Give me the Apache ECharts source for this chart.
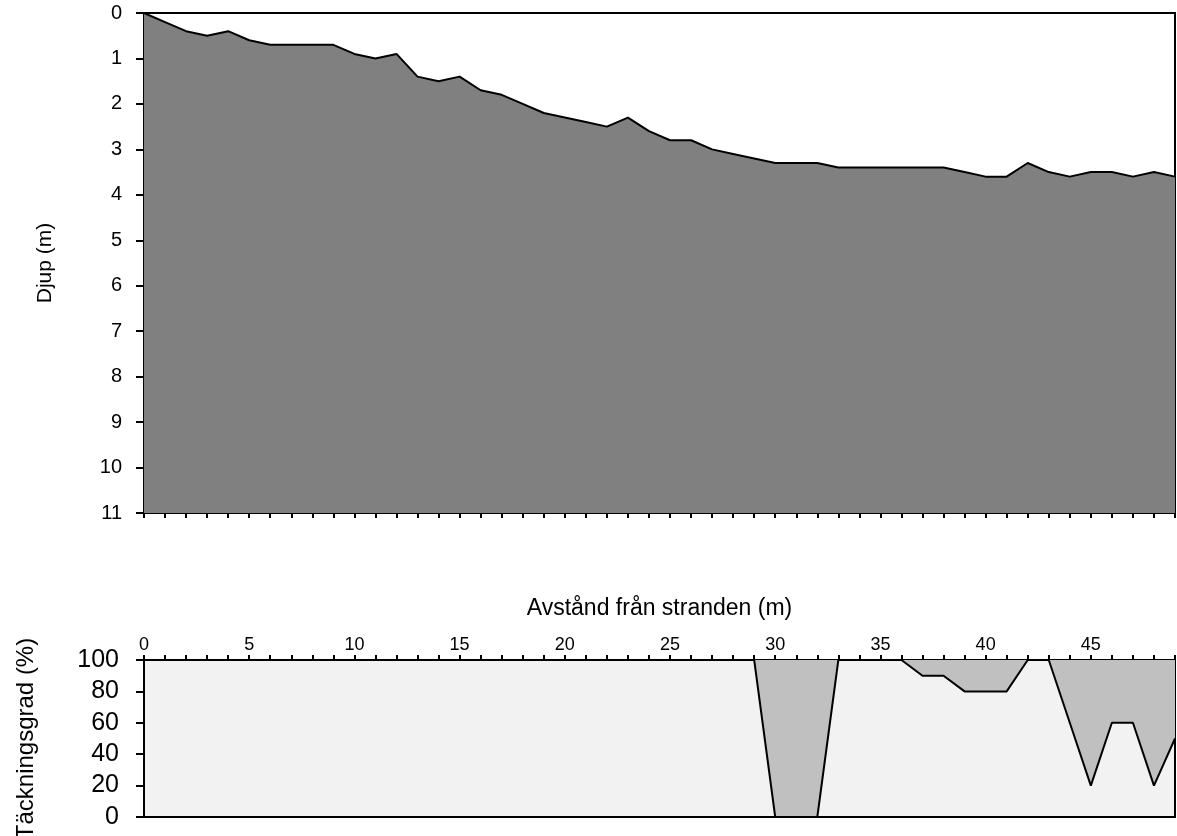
<!DOCTYPE html>
<html>
<head>
<meta charset="utf-8">
<title>Djup och täckningsgrad</title>
<script src="https://cdn.jsdelivr.net/npm/echarts@6/dist/echarts.min.js"></script>
<style>
  html, body { margin: 0; padding: 0; background: #ffffff; }
  #chart { width: 1177px; height: 836px; }
</style>
</head>
<body>
<div id="chart"></div>
<script>
// Avstånd från stranden (m), one sample per metre
const distance = [
  0, 1, 2, 3, 4, 5, 6, 7, 8, 9,
  10, 11, 12, 13, 14, 15, 16, 17, 18, 19,
  20, 21, 22, 23, 24, 25, 26, 27, 28, 29,
  30, 31, 32, 33, 34, 35, 36, 37, 38, 39,
  40, 41, 42, 43, 44, 45, 46, 47, 48, 49
];

// Djup (m) at each distance
const depth = [
  0.0, 0.2, 0.4, 0.5, 0.4, 0.6, 0.7, 0.7, 0.7, 0.7,
  0.9, 1.0, 0.9, 1.4, 1.5, 1.4, 1.7, 1.8, 2.0, 2.2,
  2.3, 2.4, 2.5, 2.3, 2.6, 2.8, 2.8, 3.0, 3.1, 3.2,
  3.3, 3.3, 3.3, 3.4, 3.4, 3.4, 3.4, 3.4, 3.4, 3.5,
  3.6, 3.6, 3.3, 3.5, 3.6, 3.5, 3.5, 3.6, 3.5, 3.6
];

// Täckningsgrad (%) at each distance
const coverage = [
  100, 100, 100, 100, 100, 100, 100, 100, 100, 100,
  100, 100, 100, 100, 100, 100, 100, 100, 100, 100,
  100, 100, 100, 100, 100, 100, 100, 100, 100, 100,
  0, 0, 0, 100, 100, 100, 100, 90, 90, 80,
  80, 80, 100, 100, 60, 20, 60, 60, 20, 50
];

const depthTicks = [0, 11, 1];      // min, max, step
const coverageTicks = [0, 100, 20]; // min, max, step
const distanceRange = [0, 49];

const FONT = '"Liberation Sans", Arial, Helvetica, sans-serif';
const pairs = (xs, ys) => xs.map((x, i) => [x, ys[i]]);

const blackLine = { show: true, onZero: false, lineStyle: { color: '#000', width: 2 } };

const chart = echarts.init(document.getElementById('chart'), null, { renderer: 'canvas' });

chart.setOption({
  animation: false,
  backgroundColor: '#ffffff',
  textStyle: { fontFamily: FONT, color: '#000' },
  grid: [
    { left: 144, right: 2, top: 13, height: 500, show: true, outerBoundsMode: 'none',
      backgroundColor: '#ffffff', borderColor: '#000', borderWidth: 2 },
    { left: 144, right: 2, top: 660, height: 157, show: true, outerBoundsMode: 'none',
      backgroundColor: '#f2f2f2', borderColor: '#000', borderWidth: 2 }
  ],
  xAxis: [
    {
      type: 'value', gridIndex: 0, position: 'bottom',
      min: distanceRange[0], max: distanceRange[1], interval: 1,
      axisLine: blackLine,
      axisTick: { show: true, inside: false, length: 5, lineStyle: { color: '#000', width: 2 } },
      axisLabel: { show: false },
      splitLine: { show: false }
    },
    {
      type: 'value', gridIndex: 1, position: 'top',
      min: distanceRange[0], max: distanceRange[1], interval: 1,
      name: 'Avstånd från stranden (m)', nameLocation: 'middle', nameGap: 40,
      nameTextStyle: { fontSize: 23, color: '#000', fontFamily: FONT },
      axisLine: blackLine,
      axisTick: { show: true, inside: false, length: 5, lineStyle: { color: '#000', width: 2 } },
      axisLabel: {
        show: true, fontSize: 18, color: '#000', margin: 6, fontFamily: FONT,
        formatter: v => (v % 5 === 0 ? String(v) : '')
      },
      splitLine: { show: false }
    }
  ],
  yAxis: [
    {
      type: 'value', gridIndex: 0, inverse: true,
      min: depthTicks[0], max: depthTicks[1], interval: depthTicks[2],
      name: 'Djup (m)', nameLocation: 'middle', nameGap: 88, nameRotate: 90,
      nameTextStyle: { fontSize: 21, color: '#000', fontFamily: FONT },
      axisLine: blackLine,
      axisTick: { show: true, inside: false, length: 8, lineStyle: { color: '#000', width: 2 } },
      axisLabel: { fontSize: 20, color: '#000', margin: 22, fontFamily: FONT },
      splitLine: { show: false }
    },
    {
      type: 'value', gridIndex: 1,
      min: coverageTicks[0], max: coverageTicks[1], interval: coverageTicks[2],
      name: 'Täckningsgrad (%)', nameLocation: 'middle', nameGap: 106, nameRotate: 90,
      nameTextStyle: { fontSize: 24, color: '#000', fontFamily: FONT },
      axisLine: blackLine,
      axisTick: { show: true, inside: false, length: 8, lineStyle: { color: '#000', width: 2 } },
      axisLabel: { fontSize: 25, color: '#000', margin: 25, fontFamily: FONT },
      splitLine: { show: false }
    }
  ],
  series: [
    {
      name: 'Djup', type: 'line', xAxisIndex: 0, yAxisIndex: 0,
      data: pairs(distance, depth),
      symbol: 'none', smooth: false,
      lineStyle: { color: '#000', width: 2 },
      areaStyle: { color: '#808080', opacity: 1, origin: 'end' },
      z: 2
    },
    {
      name: 'Täckningsgrad', type: 'line', xAxisIndex: 1, yAxisIndex: 1,
      data: pairs(distance, coverage),
      symbol: 'none', smooth: false,
      lineStyle: { color: '#000', width: 2 },
      areaStyle: { color: '#c0c0c0', opacity: 1, origin: 'end' },
      z: 2
    }
  ]
});
</script>
</body>
</html>
